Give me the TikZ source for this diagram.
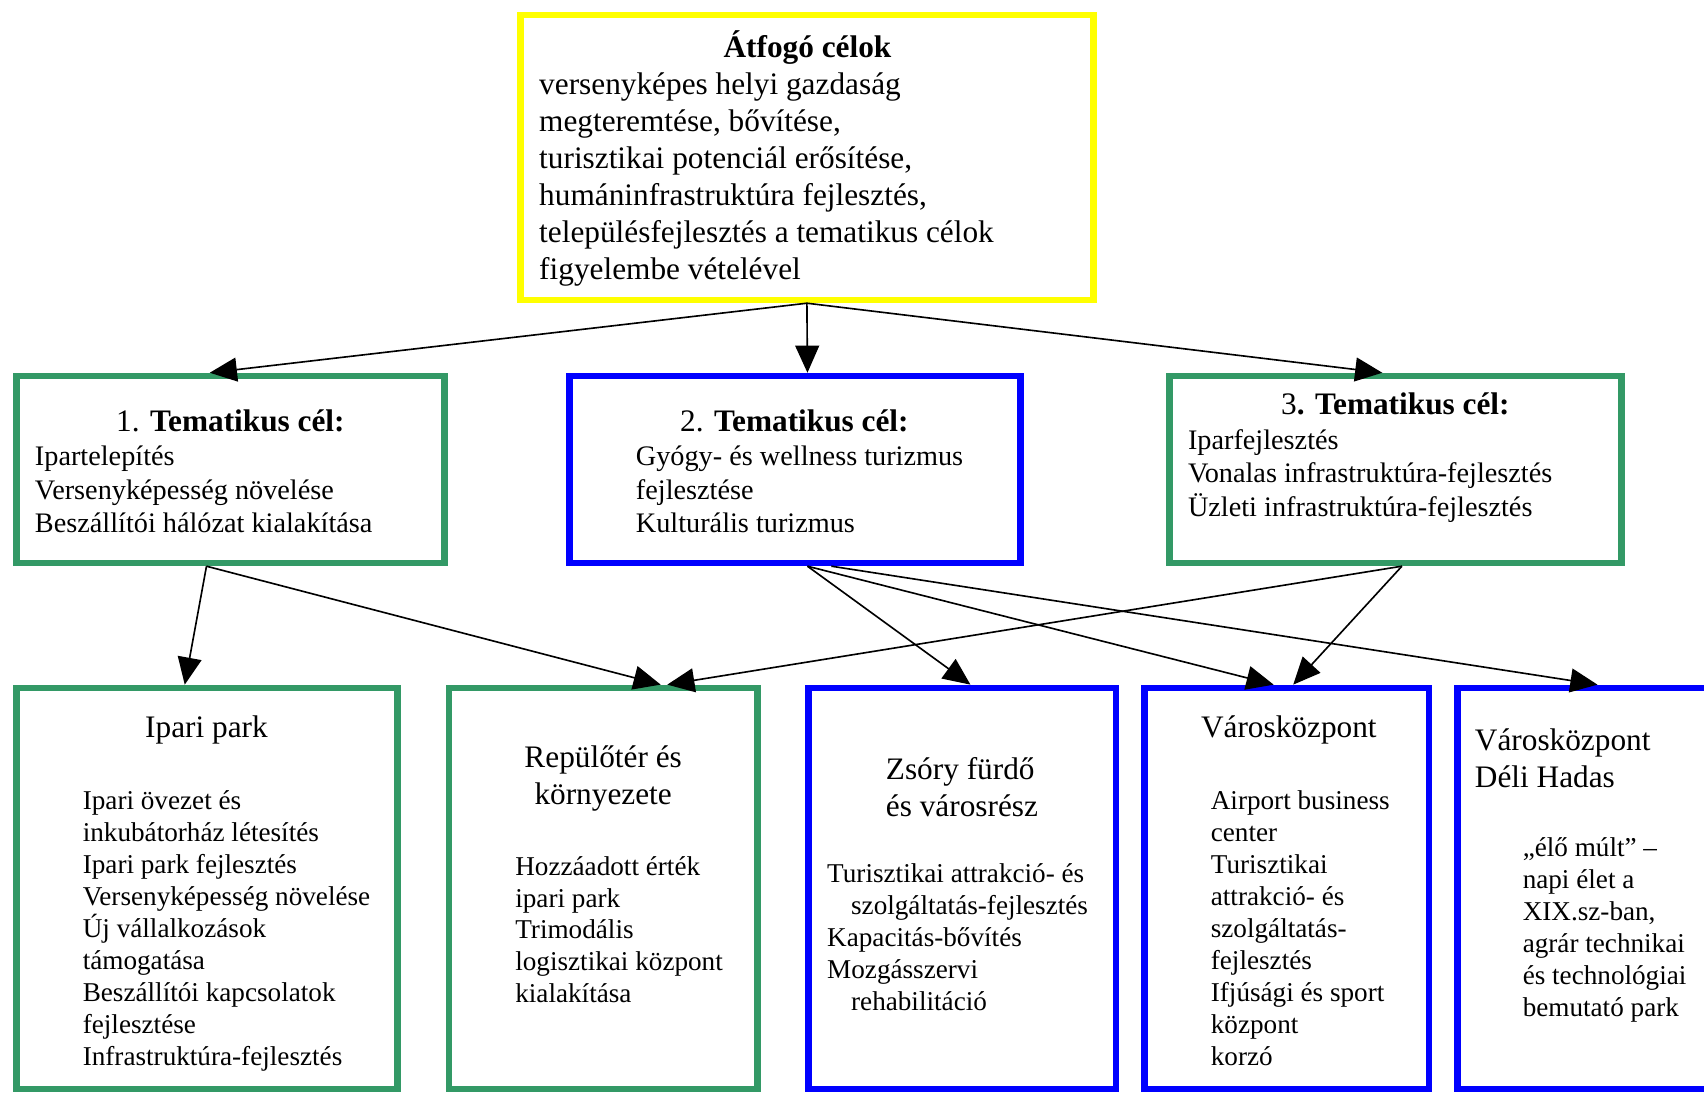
\documentclass[tikz,border=0pt]{standalone}
\usepackage{fontspec}
\setmainfont{Liberation Serif}
\usetikzlibrary{arrows.meta,calc}
\definecolor{pgreen}{RGB}{51,153,102}
\definecolor{pblue}{RGB}{0,0,255}
\definecolor{pyellow}{RGB}{255,255,0}
\newcommand\myst{\rule{0pt}{1em}}
\tikzset{
  frame/.style={draw=#1, line width=6pt, inner sep=0pt, outer sep=3pt, fill=white},
  arr/.style={draw=black, line width=1.5pt, -{Triangle[length=25pt,width=22pt]}},
  fbig/.style={font=\fontsize{28.8pt}{34pt}\selectfont},
  fmid/.style={font=\fontsize{26pt}{31pt}\selectfont},
  fsmall/.style={font=\fontsize{25pt}{29.4pt}\selectfont},
  blk/.style={inner sep=0pt, anchor=north west, align=left},
  ttl/.style={inner sep=0pt, anchor=base},
}
\begin{document}
\begin{tikzpicture}[x=1pt,y=-1pt]
\useasboundingbox (0,0) rectangle (1568,1005);
\clip (0,0) rectangle (1568,1005);
\fill[white] (0,0) rectangle (1568,1005);

% boxes (outer extents)
\node[frame=pyellow, minimum width=527pt, minimum height=262pt] (top) at (742.5,145) {};
\node[frame=pgreen, minimum width=394pt, minimum height=172pt] (b1) at (212,432) {};
\node[frame=pblue, minimum width=415pt, minimum height=172pt] (b2) at (731.5,432) {};
\node[frame=pgreen, minimum width=416pt, minimum height=172pt] (b3) at (1284,432) {};
\node[frame=pgreen, minimum width=351pt, minimum height=369pt] (p1) at (190.5,817.5) {};
\node[frame=pgreen, minimum width=284pt, minimum height=369pt] (p2) at (555,817.5) {};
\node[frame=pblue, minimum width=283pt, minimum height=369pt] (p3) at (885.5,817.5) {};
\node[frame=pblue, minimum width=262pt, minimum height=369pt] (p4) at (1184,817.5) {};
\node[frame=pblue, minimum width=296pt, minimum height=369pt] (p5) at (1489,817.5) {};

% top text
\node[ttl, fbig] (toptitle) at (743,53) {\textbf{Átfogó célok}};
\node[blk, fbig] (toptext) at (496,58.2) {\myst versenyképes helyi gazdaság\\
megteremtése, bővítése,\\
turisztikai potenciál erősítése,\\
humáninfrastruktúra fejlesztés,\\
településfejlesztés a tematikus célok\\
figyelembe vételével};

% row 2 text
\node[ttl, fbig] (b1title) at (212,397) {1. \textbf{Tematikus cél:}};
\node[blk, fmid] (b1text) at (32,402) {\myst Ipartelepítés\\
Versenyképesség növelése\\
Beszállítói hálózat kialakítása};
\node[ttl, fbig] (b2title) at (731,397) {2. \textbf{Tematikus cél:}};
\node[blk, fmid] (b2text) at (585,402) {\myst Gyógy- és wellness turizmus\\
fejlesztése\\
Kulturális turizmus};
\node[ttl, fbig] (b3title) at (1284,381) {3\textbf{. Tematikus cél:}};
\node[blk, fmid] (b3text) at (1093,387) {\myst Iparfejlesztés\\
Vonalas infrastruktúra-fejlesztés\\
Üzleti infrastruktúra-fejlesztés};

% bottom text
\node[ttl, fbig] (p1title) at (190,679) {Ipari park};
\node[blk, fsmall] (p1text) at (76,720) {\myst Ipari övezet és\\
inkubátorház létesítés\\
Ipari park fejlesztés\\
Versenyképesség növelése\\
Új vállalkozások\\
támogatása\\
Beszállítói kapcsolatok\\
fejlesztése\\
Infrastruktúra-fejlesztés};

\node[inner sep=0pt, anchor=north, align=center, fbig] (p2title) at (555,677.2) {\myst Repülőtér és\\
környezete};
\node[blk, fsmall] (p2text) at (474,780) {\myst Hozzáadott érték\\
ipari park\\
Trimodális\\
logisztikai központ\\
kialakítása};

\node[blk, fbig] (p3title) at (815,688.2) {\myst Zsóry fürdő\\
és városrész};
\node[blk, fsmall] (p3text) at (761,787) {\myst Turisztikai attrakció- és\\
\hspace*{22pt}szolgáltatás-fejlesztés\\
Kapacitás-bővítés\\
Mozgásszervi\\
\hspace*{22pt}rehabilitáció};

\node[inner sep=0pt, anchor=base west, fbig] (p4title) at (1105,679) {Városközpont};
\node[blk, fsmall] (p4text) at (1114,720) {\myst Airport business\\
center\\
Turisztikai\\
attrakció- és\\
szolgáltatás-\\
fejlesztés\\
Ifjúsági és sport\\
központ\\
korzó};

\node[blk, fbig] (p5title) at (1357,661.2) {\myst Városközpont\\
Déli Hadas};
\node[blk, fsmall] (p5text) at (1401,763) {\myst „élő múlt” –\\
napi élet a\\
XIX.sz-ban,\\
agrár technikai\\
és technológiai\\
bemutató park};

% connectors
\draw[arr] (top.south) -- ($(b1.north west)+(181,0)$);
\draw[arr] (top.south) -- ($(b2.north west)+(222,0)$);
\draw[arr] (top.south) -- ($(b3.north west)+(199,0)$);

\draw[arr] ($(b1.south west)+(178,0)$) -- ($(p1.north west)+(158,0)$);
\draw[arr] ($(b1.south west)+(178,0)$) -- ($(p2.north west)+(198,0)$);
\draw[arr] ($(b2.south west)+(222,0)$) -- ($(p3.north west)+(152,0)$);
\draw[arr] ($(b2.south west)+(222,0)$) -- ($(p4.north west)+(122,0)$);
\draw[arr] ($(b2.south west)+(244,0)$) -- ($(p5.north west)+(132,0)$);
\draw[arr] ($(b3.south west)+(217,0)$) -- ($(p2.north west)+(204,0)$);
\draw[arr] ($(b3.south west)+(217,0)$) -- ($(p4.north west)+(140,0)$);
\end{tikzpicture}
\end{document}
